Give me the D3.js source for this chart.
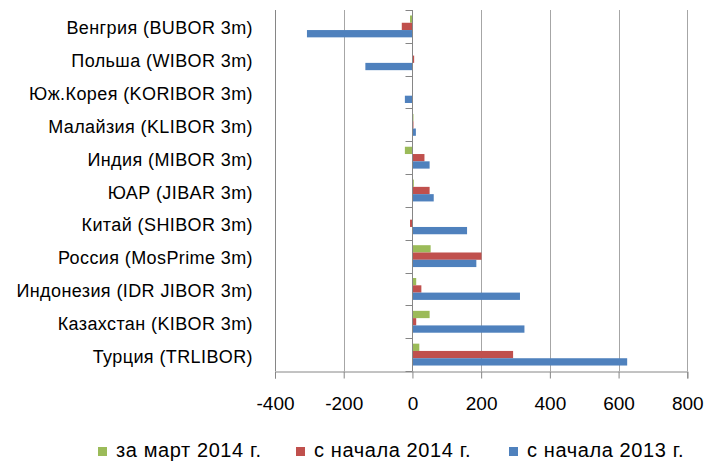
<!DOCTYPE html>
<html><head><meta charset="utf-8">
<script src="https://cdn.jsdelivr.net/npm/d3@7"></script>
<style>body{margin:0;background:#fff}</style>
</head><body><svg id="c" width="718" height="461"></svg>
<script>
const categories = ["Венгрия (BUBOR 3m)","Польша (WIBOR 3m)","Юж.Корея (KORIBOR 3m)","Малайзия (KLIBOR 3m)","Индия (MIBOR 3m)","ЮАР (JIBAR 3m)","Китай (SHIBOR 3m)","Россия (MosPrime 3m)","Индонезия (IDR JIBOR 3m)","Казахстан (KIBOR 3m)","Турция (TRLIBOR)"];
const seriesNames = ["за март 2014 г.","с начала 2014 г.","с начала 2013 г."];
const march2014 = [-7, 0, 0, 3, -22, 4, 0, 53, 11, 50, 20];
const since2014 = [-31, 5, 0, 3, 35, 50, -7, 201, 26, 11, 293];
const since2013 = [-307, -137, -22, 10, 50, 62, 159, 186, 313, 326, 625];
const xTicks = [-400,-200,0,200,400,600,800];
const colors = ["#9bbb59","#c0504d","#4f81bd"];

(function(){
const font = "'Liberation Sans',sans-serif";
const svg = d3.select("#c");
const pl = 275, pr = 687.3, pt = 10, pb = 371;
const x = d3.scaleLinear().domain([-400,800]).range([pl,pr]);
const y = d3.scaleBand().domain(categories).range([pt,pb]);
const series = [march2014, since2014, since2013];
const inner = d3.scaleBand().domain([0,1,2]).range([0, y.bandwidth()]).paddingInner(0).paddingOuter(0.75);

svg.append("g").selectAll("line").data(xTicks).join("line")
  .attr("x1", d=>Math.round(x(d))+0.5).attr("x2", d=>Math.round(x(d))+0.5)
  .attr("y1", pt).attr("y2", pb)
  .attr("stroke", d=> d===-400 ? "#868686" : "#a6a6a6").attr("stroke-width",1);

series.forEach((vals, si) => {
  svg.append("g").selectAll("rect").data(vals).join("rect")
    .attr("x", d => x(Math.min(0,d)))
    .attr("width", d => Math.abs(x(d)-x(0)))
    .attr("y", (d,i) => y(categories[i]) + inner(si))
    .attr("height", inner.bandwidth())
    .attr("fill", colors[si]);
});

const xAxis = d3.axisBottom(x).tickValues(xTicks).tickSize(7).tickPadding(0).tickFormat(d3.format("d"));
const gx = svg.append("g").attr("transform",`translate(0,${pb}.5)`).call(xAxis);
gx.select(".domain").attr("stroke","#868686");
gx.selectAll(".tick line").attr("stroke","#868686");
gx.selectAll("text").attr("y",38).attr("dy",null).attr("font-family",font).attr("font-size",19).attr("fill","#000")
  .text(d=>d<0?"-"+Math.abs(d):d);

const gy = svg.append("g").attr("transform",`translate(${Math.round(x(0))+0.5},0)`);
gy.append("line").attr("y1",pt).attr("y2",pb).attr("stroke","#868686");
gy.selectAll("line.t").data(d3.range(categories.length+1)).join("line").attr("class","t")
  .attr("x1",-7).attr("x2",0)
  .attr("y1",i=>Math.round(pt + i*y.step())+0.5).attr("y2",i=>Math.round(pt + i*y.step())+0.5)
  .attr("stroke","#868686");

svg.append("g").selectAll("text").data(categories).join("text")
  .attr("x", 253).attr("y", d => y(d)+y.bandwidth()/2 + 8)
  .attr("text-anchor","end").attr("letter-spacing","0.4")
  .attr("font-family",font).attr("font-size",18).attr("fill","#000").text(d=>d);

const legX = [98, 296, 509];
const lg = svg.append("g").selectAll("g").data(seriesNames).join("g")
  .attr("transform",(d,i)=>`translate(${legX[i]},0)`);
lg.append("rect").attr("x",0).attr("y",447).attr("width",9).attr("height",9).attr("fill",(d,i)=>colors[i]);
lg.append("text").attr("x",18).attr("y",456.5).attr("letter-spacing","0.6")
  .attr("font-family",font).attr("font-size",20).attr("fill","#000").text(d=>d);
})();
</script></body></html>
